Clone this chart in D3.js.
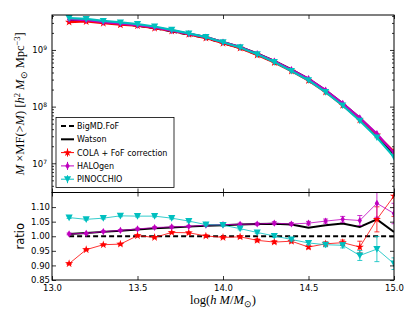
<!DOCTYPE html>
<html>
<head>
<meta charset="utf-8">
<script src="https://cdn.jsdelivr.net/npm/d3@7"></script>
<style>
body{margin:0;background:#fff}
svg{display:block}
.axis path{display:none}
.axis line{stroke:#000;stroke-width:0.8}
.axis text{font-family:"DejaVu Sans",sans-serif;font-size:8.5px;fill:#000}
.leg{font-family:"DejaVu Sans",sans-serif;font-size:8px}
.math{font-family:"Liberation Serif",serif;font-size:12.5px}
</style>
</head>
<body>
<svg width="415" height="312"></svg>
<script>
// mass bins, log(h M/Msun)
var logM = [13.1,13.2,13.3,13.4,13.5,13.6,13.7,13.8,13.9,14.0,14.1,14.2,14.3,14.4,14.5,14.6,14.7,14.8,14.9,15.0];
// BigMD FoF reference,  M x MF(>M)
var mfBigMD = [3.42e9,3.33e9,3.06e9,2.86e9,2.68e9,2.43e9,2.13e9,1.86e9,1.62e9,1.32e9,1.08e9,8.26e8,6.11e8,4.31e8,2.99e8,1.86e8,1.08e8,6.04e7,2.99e7,1.42e7];
// ratios to BigMD
var ratioWatson = [1.008,1.011,1.015,1.019,1.023,1.027,1.030,1.033,1.036,1.038,1.040,1.042,1.043,1.040,1.029,1.038,1.044,1.032,1.058,1.015];
var ratioCOLA = [0.906,0.954,0.971,0.973,1.002,0.996,1.013,1.012,1.001,0.996,0.998,0.986,0.980,0.983,0.963,0.974,0.978,0.963,1.058,1.138];
var errCOLA = [0.003,0.003,0.003,0.003,0.003,0.003,0.003,0.003,0.004,0.004,0.004,0.005,0.005,0.006,0.006,0.007,0.009,0.02,0.043,0.07];
var ratioHALOgen = [1.008,1.010,1.016,1.020,1.025,1.030,1.032,1.034,1.038,1.040,1.041,1.042,1.045,1.042,1.045,1.052,1.058,1.054,1.113,1.078];
var errHALOgen = [0.003,0.003,0.003,0.003,0.003,0.003,0.003,0.003,0.004,0.004,0.004,0.004,0.005,0.005,0.006,0.007,0.01,0.017,0.048,0.035];
var ratioPINOCCHIO = [1.064,1.058,1.062,1.070,1.069,1.069,1.062,1.052,1.040,1.038,1.026,1.013,1.001,0.989,0.977,0.971,0.969,0.934,0.956,0.906];
var errPINOCCHIO = [0.003,0.003,0.003,0.003,0.003,0.003,0.003,0.003,0.004,0.004,0.004,0.004,0.005,0.005,0.006,0.007,0.009,0.017,0.043,0.02];

var xTicks = [13.0,13.5,14.0,14.5,15.0];
var ratioTicks = [0.85,0.90,0.95,1.00,1.05,1.10];
var mfTicks = [1e7,1e8,1e9];

var L = 52, R = 394, T1 = 15, B1 = 192.5, B2 = 280;

var svg = d3.select("svg");
var x = d3.scaleLinear().domain([13,15]).range([L,R]);
var yTop = d3.scaleLog().domain([3.05e6,4.14e9]).range([B1,T1]);
var yBot = d3.scaleLinear().domain([0.85,1.15]).range([B2,B1]);

var defs = svg.append("defs");
defs.append("clipPath").attr("id","c1").append("rect").attr("x",L).attr("y",T1).attr("width",R-L).attr("height",B1-T1);
defs.append("clipPath").attr("id","c2").append("rect").attr("x",L).attr("y",B1).attr("width",R-L).attr("height",B2-B1);

// marker paths
function star(r){ return d3.symbol().type(d3.symbolStar).size(r*r/0.8908)(); }
function tri(r){ return "M"+(-r)+","+(-r*0.85)+"L"+r+","+(-r*0.85)+"L0,"+r+"Z"; }
function diam(r){ return "M0,"+(-r)+"L"+(r*0.6)+",0L0,"+r+"L"+(-r*0.6)+",0Z"; }

var series = [
  {name:"COLA + FoF correction", ratio:ratioCOLA, err:errCOLA, color:"#ff0000", mk:star, r:4.3},
  {name:"HALOgen", ratio:ratioHALOgen, err:errHALOgen, color:"#bf00bf", mk:diam, r:3.6},
  {name:"PINOCCHIO", ratio:ratioPINOCCHIO, err:errPINOCCHIO, color:"#00bfbf", mk:tri, r:3.6}
];

// ---------- top panel ----------
var g1 = svg.append("g").attr("clip-path","url(#c1)");
var lineTop = d3.line().x(function(d){return x(d[0]);}).y(function(d){return yTop(d[1]);});

g1.append("path")
  .attr("d", lineTop(logM.map(function(m,i){return [m, mfBigMD[i]];})))
  .attr("fill","none").attr("stroke","#000").attr("stroke-width",2).attr("stroke-dasharray","5,3");
g1.append("path")
  .attr("d", lineTop(logM.map(function(m,i){return [m, mfBigMD[i]*ratioWatson[i]];})))
  .attr("fill","none").attr("stroke","#000").attr("stroke-width",2.5);

series.forEach(function(s){
  var pts = logM.map(function(m,i){return [m, mfBigMD[i]*s.ratio[i]];});
  g1.append("path").attr("d", lineTop(pts))
    .attr("fill","none").attr("stroke",s.color).attr("stroke-width",2.2);
  g1.selectAll(null).data(pts).enter().append("path")
    .attr("d", s.mk(s.r))
    .attr("transform", function(d){return "translate("+x(d[0])+","+yTop(d[1])+")";})
    .attr("fill", s.color);
});

// ---------- bottom panel ----------
var g2 = svg.append("g").attr("clip-path","url(#c2)");
var lineBot = d3.line().x(function(d){return x(d[0]);}).y(function(d){return yBot(d[1]);});

g2.append("path")
  .attr("d", lineBot(logM.map(function(m){return [m, 1];})))
  .attr("fill","none").attr("stroke","#000").attr("stroke-width",2).attr("stroke-dasharray","5,3");
g2.append("path")
  .attr("d", lineBot(logM.map(function(m,i){return [m, ratioWatson[i]];})))
  .attr("fill","none").attr("stroke","#000").attr("stroke-width",2);

series.forEach(function(s){
  var pts = logM.map(function(m,i){return [m, s.ratio[i], s.err[i]];});
  g2.append("path").attr("d", lineBot(pts))
    .attr("fill","none").attr("stroke",s.color).attr("stroke-width",1).attr("stroke-opacity",0.8);
  var eb = g2.selectAll(null).data(pts).enter().append("g").attr("stroke",s.color).attr("stroke-width",1).attr("stroke-opacity",0.8);
  eb.append("line").attr("x1",function(d){return x(d[0]);}).attr("x2",function(d){return x(d[0]);})
    .attr("y1",function(d){return yBot(d[1]-d[2]);}).attr("y2",function(d){return yBot(d[1]+d[2]);});
  eb.append("line").attr("x1",function(d){return x(d[0])-2.5;}).attr("x2",function(d){return x(d[0])+2.5;})
    .attr("y1",function(d){return yBot(d[1]-d[2]);}).attr("y2",function(d){return yBot(d[1]-d[2]);});
  eb.append("line").attr("x1",function(d){return x(d[0])-2.5;}).attr("x2",function(d){return x(d[0])+2.5;})
    .attr("y1",function(d){return yBot(d[1]+d[2]);}).attr("y2",function(d){return yBot(d[1]+d[2]);});
  g2.selectAll(null).data(pts).enter().append("path")
    .attr("d", s.mk(s.r))
    .attr("transform", function(d){return "translate("+x(d[0])+","+yBot(d[1])+")";})
    .attr("fill", s.color);
});

// ---------- axes ----------
function sup(sel){
  sel.selectAll("text").each(function(d){
    var t = d3.select(this); var e = Math.round(Math.log10(d));
    t.text("10");
    t.append("tspan").attr("dy","-0.5em").attr("font-size","6px").text(e);
  });
}
var minors = [];
[6,7,8,9].forEach(function(e){ for (var k=2;k<10;k++){ var v=k*Math.pow(10,e); if(v>=3.05e6 && v<=4.14e9) minors.push(v);} });

svg.append("g").attr("class","axis").attr("transform","translate("+L+",0)")
  .call(d3.axisLeft(yTop).tickValues(mfTicks).tickSize(-4).tickPadding(5)).call(sup);
svg.append("g").attr("class","axis").attr("transform","translate("+L+",0)")
  .call(d3.axisLeft(yTop).tickValues(minors).tickSize(-2).tickFormat(""));
svg.append("g").attr("class","axis").attr("transform","translate("+R+",0)")
  .call(d3.axisRight(yTop).tickValues(mfTicks).tickSize(-4).tickFormat(""));
svg.append("g").attr("class","axis").attr("transform","translate("+R+",0)")
  .call(d3.axisRight(yTop).tickValues(minors).tickSize(-2).tickFormat(""));
svg.append("g").attr("class","axis").attr("transform","translate(0,"+T1+")")
  .call(d3.axisTop(x).tickValues(xTicks).tickSize(-4).tickFormat(""));
svg.append("g").attr("class","axis").attr("transform","translate(0,"+B1+")")
  .call(d3.axisBottom(x).tickValues(xTicks).tickSize(-4).tickFormat(""));

svg.append("g").attr("class","axis").attr("transform","translate("+L+",0)")
  .call(d3.axisLeft(yBot).tickValues(ratioTicks).tickSize(-4).tickPadding(2).tickFormat(d3.format(".2f")));
svg.append("g").attr("class","axis").attr("transform","translate("+R+",0)")
  .call(d3.axisRight(yBot).tickValues(ratioTicks).tickSize(-4).tickFormat(""));
svg.append("g").attr("class","axis").attr("transform","translate(0,"+B1+")")
  .call(d3.axisTop(x).tickValues(xTicks).tickSize(-4).tickFormat(""));
svg.append("g").attr("class","axis").attr("transform","translate(0,"+B2+")")
  .call(d3.axisBottom(x).tickValues(xTicks).tickSize(-4).tickPadding(5).tickFormat(d3.format(".1f")));

// frames
[[T1,B1],[B1,B2]].forEach(function(p){
  svg.append("rect").attr("x",L).attr("y",p[0]).attr("width",R-L).attr("height",p[1]-p[0])
    .attr("fill","none").attr("stroke","#000").attr("stroke-width",1);
});

// ---------- legend ----------
var leg = svg.append("g");
leg.append("rect").attr("x",56).attr("y",117.5).attr("width",118).attr("height",70)
  .attr("fill","#fff").attr("stroke","#000").attr("stroke-width",0.8);
var legItems = [
  {name:"BigMD.FoF", color:"#000", dash:"5,3", w:2},
  {name:"Watson", color:"#000", w:2}
].concat(series);
legItems.forEach(function(s,i){
  var yy = 126 + i*13.3;
  leg.append("line").attr("x1",61).attr("x2",74).attr("y1",yy).attr("y2",yy)
    .attr("stroke",s.color).attr("stroke-width",s.w || 1).attr("stroke-dasharray",s.dash || null);
  if (s.mk) {
    leg.append("line").attr("x1",67.5).attr("x2",67.5).attr("y1",yy-4).attr("y2",yy+4).attr("stroke",s.color);
    leg.append("path").attr("d",s.mk(s.r)).attr("transform","translate(67.5,"+yy+")").attr("fill",s.color);
  }
  leg.append("text").attr("class","leg").attr("x",77).attr("y",yy+3).attr("font-size","8.3px").text(s.name);
});

// ---------- labels ----------
var yl = svg.append("text").attr("class","math").attr("text-anchor","middle")
  .attr("transform","translate(24,"+((T1+B1)/2)+") rotate(-90)");
yl.append("tspan").attr("font-style","italic").text("M");
yl.append("tspan").text(" \u00d7MF(>");
yl.append("tspan").attr("font-style","italic").text("M");
yl.append("tspan").text(") [");
yl.append("tspan").attr("font-style","italic").text("h");
yl.append("tspan").attr("dy","-4.5").attr("font-size","8.5px").text("2");
yl.append("tspan").attr("dy","4.5").text(" ");
yl.append("tspan").attr("font-style","italic").text("M");
yl.append("tspan").attr("dy","3").attr("font-size","8.5px").text("\u2299");
yl.append("tspan").attr("dy","-3").text(" Mpc");
yl.append("tspan").attr("dy","-4.5").attr("font-size","8.5px").text("\u22123");
yl.append("tspan").attr("dy","4.5").text("]");

svg.append("text").attr("transform","translate(24,"+((B1+B2)/2)+") rotate(-90)")
  .attr("text-anchor","middle").attr("font-family","DejaVu Sans, sans-serif").attr("font-size","11.5px").text("ratio");

var xl = svg.append("text").attr("class","math").attr("text-anchor","middle").attr("x",(L+R)/2).attr("y",304);
xl.append("tspan").text("log(");
xl.append("tspan").attr("font-style","italic").text("h M");
xl.append("tspan").text("/");
xl.append("tspan").attr("font-style","italic").text("M");
xl.append("tspan").attr("dy","3").attr("font-size","8.5px").text("\u2299");
xl.append("tspan").attr("dy","-3").text(")");
</script>
</body>
</html>
